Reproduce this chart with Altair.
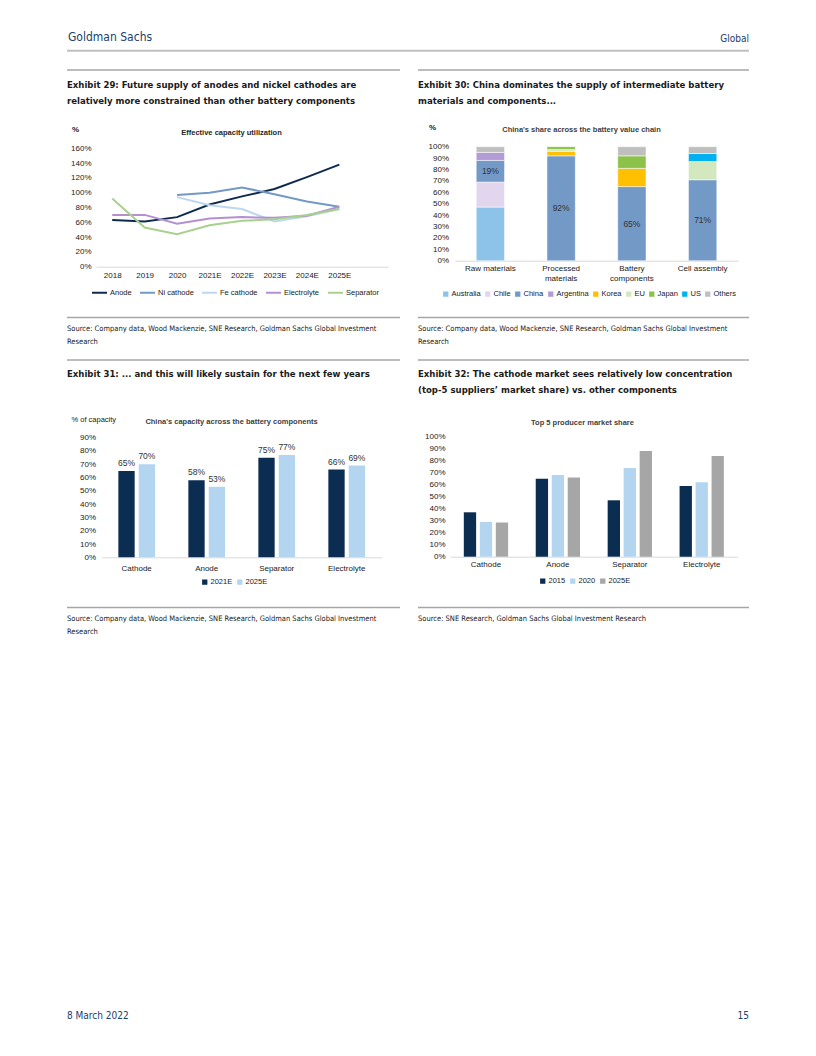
import altair as alt
import pandas as pd

# ---------------- data ----------------
years = ["2018", "2019", "2020", "2021E", "2022E", "2023E", "2024E", "2025E"]
util_series = ["Anode", "Ni cathode", "Fe cathode", "Electrolyte", "Separator"]
util_colors = ["#0E2B4E", "#7399C6", "#BDD7EE", "#B48FD1", "#A9D18E"]
anode = [63, 61, 67, 84, 95, 105, 121, 138]
ni_cathode = [None, None, 97, 100, 107, 98, 88, 81]
fe_cathode = [None, None, 94, 83, 78, 61, 68, 78]
electrolyte = [70, 70, 58, 65, 67, 66, 69, 81]
separator = [92, 53, 44, 56, 62, 64, 70, 78]

stages = ["Raw materials", "Processed materials", "Battery components", "Cell assembly"]
countries = ["Australia", "Chile", "China", "Argentina", "Korea", "EU", "Japan", "US", "Others"]
country_colors = ["#8DC3E9", "#E2D6EE", "#7399C6", "#B39BD6", "#FFC000", "#D4E8BF", "#8CC24A", "#00B0F0", "#BFBFBF"]
share_australia = [47, 0, 0, 0]
share_chile = [22, 0, 0, 0]
share_china = [19, 92, 65, 71]
share_argentina = [7, 0, 0, 0]
share_korea = [0, 4, 16, 0]
share_eu = [0, 1.5, 0, 16]
share_japan = [0, 2.5, 11, 0]
share_us = [0, 0, 0, 7]
share_others = [5, 0, 8, 6]

components = ["Cathode", "Anode", "Separator", "Electrolyte"]
cap_years = ["2021E", "2025E"]
cap_colors = ["#0B2D52", "#B4D5F0"]
cap_2021e = [65, 58, 75, 66]
cap_2025e = [70, 53, 77, 69]

top5_years = ["2015", "2020", "2025E"]
top5_colors = ["#0B2D52", "#B4D5F0", "#A6A6A6"]
top5_2015 = [37, 65, 47, 59]
top5_2020 = [29, 68, 74, 62]
top5_2025e = [28.5, 66, 88, 84]

# ---------------- page helpers ----------------
W, H = 800, 1040
OX = OY = 8
NARROW = "Liberation Sans Narrow, DejaVu Sans Condensed, Roboto Condensed, Arial Narrow, sans-serif"
ARIAL = "Liberation Sans, Arial, Helvetica, sans-serif"
NAVY = "#21406B"
TITLE_SIZE = 9.5
SRC_SIZE = 7.5
one = pd.DataFrame({"k": [0]})


def txt(s, x, y, size, color="#1a1a1a", weight="normal", font=NARROW, align="left"):
    return alt.Chart(one).mark_text(
        text=s, fontSize=size, fontWeight=weight, font=font, color=color,
        align=align, baseline="middle"
    ).encode(x=alt.value(x - OX), y=alt.value(y - OY))


def hline(x1, x2, y, color="#A6A6A6", w=1.5):
    return alt.Chart(one).mark_rule(color=color, strokeWidth=w).encode(
        x=alt.value(x1 - OX), x2=alt.value(x2 - OX), y=alt.value(y - OY)
    )


def xaxis(ypage, pad=5, **kw):
    return alt.Axis(orient="bottom", offset=(ypage - OY) - H, title=None, ticks=False,
                    domainColor="#D9D9D9", domainWidth=1, labelAngle=0, labelFont=ARIAL,
                    labelFontSize=8, labelColor="#1a1a1a", labelPadding=pad, grid=False, **kw)


def yaxis(xpage, values):
    return alt.Axis(orient="left", offset=-(xpage - OX), title=None, ticks=False, domain=False,
                    grid=False, values=values, labelExpr="datum.value + '%'", labelFont=ARIAL,
                    labelFontSize=8, labelColor="#1a1a1a", labelPadding=0)


def legend(xpage, ypage, stroke=False, size=7.5):
    kw = dict(orient="none", legendX=xpage - OX, legendY=ypage - OY, direction="horizontal",
              title=None, labelFont=ARIAL, labelFontSize=size, labelColor="#1a1a1a", padding=0)
    if stroke:
        kw.update(symbolType="stroke", symbolSize=225, symbolStrokeWidth=2, labelOffset=2,
                  columnPadding=4)
    else:
        kw.update(symbolType="square", symbolSize=28, labelOffset=2, columnPadding=3,
                  symbolStrokeWidth=0)
    return alt.Legend(**kw)


# ---------------- Exhibit 29: lines ----------------
rows1 = []
for name, vals in zip(util_series, [anode, ni_cathode, fe_cathode, electrolyte, separator]):
    for yr, v in zip(years, vals):
        if v is not None:
            rows1.append({"year": yr, "series": name, "value": v})
df1 = pd.DataFrame(rows1)

chart1 = alt.Chart(df1).mark_line(strokeWidth=2).encode(
    x=alt.X("year:N", scale=alt.Scale(type="point", domain=years + [" "],
                                      range=[96 - OX, 388 - OX], padding=0.5),
            axis=xaxis(266.7, pad=5)),
    y=alt.Y("value:Q", scale=alt.Scale(domain=[0, 160], range=[266.7 - OY, 148.3 - OY],
                                       nice=False, zero=False),
            axis=yaxis(91, list(range(0, 161, 20)))),
    color=alt.Color("series:N", scale=alt.Scale(domain=util_series, range=util_colors),
                    legend=legend(91, 284, stroke=True)),
)

# ---------------- Exhibit 30: stacked bars ----------------
shares = [share_australia, share_chile, share_china, share_argentina, share_korea,
          share_eu, share_japan, share_us, share_others]
rows2 = []
for i, (c, vals) in enumerate(zip(countries, shares)):
    for s, v in zip(stages, vals):
        if v > 0:
            rows2.append({"stage": s, "country": c, "share": v, "ord": i})
df2 = pd.DataFrame(rows2)

X2 = alt.Scale(domain=stages, range=[455 - OX, 738 - OX], paddingInner=0.6, paddingOuter=0.3)
Y2 = alt.Scale(domain=[0, 100], range=[260.7 - OY, 146.7 - OY], nice=False, zero=False)
XA2 = xaxis(260.7, pad=4, labelLineHeight=10,
            labelExpr="datum.value == 'Processed materials' ? ['Processed', 'materials'] : "
                      "datum.value == 'Battery components' ? ['Battery', 'components'] : datum.value")
YA2 = yaxis(448.5, list(range(0, 101, 10)))
base2 = alt.Chart(df2).transform_stack(
    stack="share", as_=["s0", "s1"], groupby=["stage"], sort=[alt.SortField("ord", order="ascending")]
)
bars2 = base2.mark_bar(stroke="white", strokeWidth=0.5).encode(
    x=alt.X("stage:N", scale=X2, sort=stages, axis=XA2),
    y=alt.Y("s0:Q", scale=Y2, stack=None, axis=YA2),
    y2="s1:Q",
    color=alt.Color("country:N", scale=alt.Scale(domain=countries, range=country_colors),
                    legend=legend(442, 290)),
)
lbl2 = base2.transform_filter("datum.country == 'China'").transform_calculate(
    mid="(datum.s0 + datum.s1) / 2", lab="datum.share + '%'"
).mark_text(font=ARIAL, fontSize=8.5, color="#333333", baseline="middle").encode(
    x=alt.X("stage:N", scale=X2, sort=stages, axis=XA2),
    y=alt.Y("mid:Q", scale=Y2, axis=YA2),
    text="lab:N",
)
chart2 = alt.layer(bars2, lbl2)

# ---------------- Exhibit 31: grouped bars ----------------
rows3 = []
for yr, vals in zip(cap_years, [cap_2021e, cap_2025e]):
    for c, v in zip(components, vals):
        rows3.append({"component": c, "year": yr, "value": v})
df3 = pd.DataFrame(rows3)
X3 = alt.Scale(domain=components, range=[101.7 - OX, 381.7 - OX], paddingInner=0.476, paddingOuter=0.238)
XO3 = alt.Scale(domain=cap_years, paddingInner=0.2, paddingOuter=0)
Y3 = alt.Scale(domain=[0, 90], range=[557.3 - OY, 437.7 - OY], nice=False, zero=False)
XA3 = xaxis(557.3, pad=7)
YA3 = yaxis(95.5, list(range(0, 91, 10)))
bars3 = alt.Chart(df3).mark_bar().encode(
    x=alt.X("component:N", scale=X3, sort=components, axis=XA3),
    xOffset=alt.XOffset("year:N", scale=XO3),
    y=alt.Y("value:Q", scale=Y3, axis=YA3),
    color=alt.Color("year:N", scale=alt.Scale(domain=cap_years, range=cap_colors),
                    legend=legend(201, 578)),
)
lbl3 = alt.Chart(df3).transform_calculate(lab="datum.value + '%'").mark_text(
    font=ARIAL, fontSize=8.5, color="#333333", baseline="bottom", dy=-3
).encode(
    x=alt.X("component:N", scale=X3, sort=components, axis=XA3),
    xOffset=alt.XOffset("year:N", scale=XO3),
    y=alt.Y("value:Q", scale=Y3, axis=YA3),
    text="lab:N",
)
chart3 = alt.layer(bars3, lbl3)

# ---------------- Exhibit 32: grouped bars ----------------
rows4 = []
for yr, vals in zip(top5_years, [top5_2015, top5_2020, top5_2025e]):
    for c, v in zip(components, vals):
        rows4.append({"component": c, "year": yr, "value": v})
df4 = pd.DataFrame(rows4)
chart4 = alt.Chart(df4).mark_bar().encode(
    x=alt.X("component:N", scale=alt.Scale(domain=components, range=[450 - OX, 737.7 - OX],
                                           paddingInner=0.384, paddingOuter=0.192),
            sort=components, axis=xaxis(556.7, pad=4)),
    xOffset=alt.XOffset("year:N", scale=alt.Scale(domain=top5_years, paddingInner=0.23, paddingOuter=0)),
    y=alt.Y("value:Q", scale=alt.Scale(domain=[0, 100], range=[556.7 - OY, 436.7 - OY], nice=False, zero=False),
            axis=yaxis(445, list(range(0, 101, 10)))),
    color=alt.Color("year:N", scale=alt.Scale(domain=top5_years, range=top5_colors),
                    legend=legend(539, 577)),
)

# ---------------- page furniture ----------------
src = "Source: Company data, Wood Mackenzie, SNE Research, Goldman Sachs Global Investment"
deco = [
    txt("Goldman Sachs", 68, 37, 12, color=NAVY),
    txt("Global", 749, 38.5, 10, color=NAVY, align="right"),
    hline(67, 749, 50.7, color="#C0C0C0", w=2),
    # exhibit 29 / 30 headers
    hline(67, 400, 70), hline(418, 749, 70),
    txt("Exhibit 29: Future supply of anodes and nickel cathodes are", 67, 84.5, TITLE_SIZE, weight="bold"),
    txt("relatively more constrained than other battery components", 67, 100.5, TITLE_SIZE, weight="bold"),
    txt("Exhibit 30: China dominates the supply of intermediate battery", 418, 84.5, TITLE_SIZE, weight="bold"),
    txt("materials and components...", 418, 100.5, TITLE_SIZE, weight="bold"),
    # chart inner titles
    txt("%", 72, 129.5, 8, weight="bold", font=ARIAL),
    txt("Effective capacity utilization", 231.5, 133, 7.5, weight="bold", font=ARIAL, color="#262626", align="center"),
    txt("%", 429, 128, 8, weight="bold", font=ARIAL),
    txt("China's share across the battery value chain", 581.5, 130, 7.5, weight="bold", font=ARIAL, color="#404040", align="center"),
    # sources row 1
    hline(67, 400, 317.5), hline(418, 749, 317.5),
    txt(src, 67, 329, SRC_SIZE), txt("Research", 67, 341.5, SRC_SIZE),
    txt(src, 418, 329, SRC_SIZE), txt("Research", 418, 341.5, SRC_SIZE),
    # exhibit 31 / 32 headers
    hline(67, 400, 360), hline(418, 749, 360),
    txt("Exhibit 31: ... and this will likely sustain for the next few years", 67, 373.5, TITLE_SIZE, weight="bold"),
    txt("Exhibit 32: The cathode market sees relatively low concentration", 418, 373.5, TITLE_SIZE, weight="bold"),
    txt("(top-5 suppliers\u2019 market share) vs. other components", 418, 389.5, TITLE_SIZE, weight="bold"),
    txt("% of capacity", 71.5, 420, 7.5, font=ARIAL),
    txt("China's capacity across the battery components", 231.5, 422, 7.5, weight="bold", font=ARIAL, color="#404040", align="center"),
    txt("Top 5 producer market share", 582.5, 422.5, 7.5, weight="bold", font=ARIAL, color="#404040", align="center"),
    # sources row 2
    hline(67, 400, 607.5), hline(418, 749, 607.5),
    txt(src, 67, 619, SRC_SIZE), txt("Research", 67, 631.5, SRC_SIZE),
    txt("Source: SNE Research, Goldman Sachs Global Investment Research", 418, 619, SRC_SIZE),
    # footer
    txt("8 March 2022", 67, 1015.5, 10, color=NAVY),
    txt("15", 749, 1015.5, 10, color=NAVY, align="right"),
]

chart = alt.layer(chart1, chart2, chart3, chart4, *deco).resolve_scale(
    x="independent", y="independent", color="independent", xOffset="independent"
).properties(
    width=W, height=H, autosize=alt.AutoSizeParams(type="none"), padding=0
).configure(background="white").configure_view(strokeWidth=0, stroke="transparent")

chart.save("out.html", embed_options={"renderer": "svg", "actions": False})
